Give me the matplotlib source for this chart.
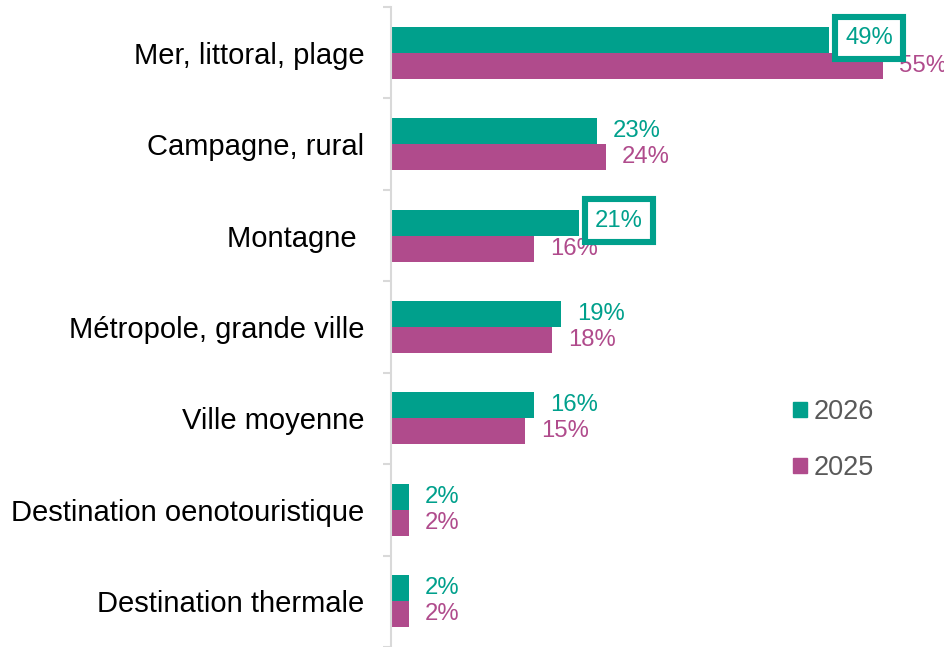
import matplotlib
matplotlib.use("Agg")
import matplotlib.pyplot as plt
import numpy as np
from matplotlib.patches import Patch

categories = ["Mer, littoral, plage", "Campagne, rural", "Montagne ",
              "Métropole, grande ville", "Ville moyenne",
              "Destination oenotouristique", "Destination thermale"]
v2026 = [49, 23, 21, 19, 16, 2, 2]
v2025 = [55, 24, 16, 18, 15, 2, 2]
highlight = [0, 2]  # indices of 2026 labels framed

teal = "#00A08C"
magenta = "#B04B8C"
axis_gray = "#D9D9D9"

plt.rcParams['font.family'] = ['Liberation Sans', 'DejaVu Sans']

fig = plt.figure(figsize=(9.44, 6.47), dpi=100)
ax = fig.add_axes([391/944, 0, (944-391)/944, 1-7/647])

y = np.arange(len(categories))
h = 0.284
ax.barh(y - h/2, v2026, height=h, color=teal, label="2026")
ax.barh(y + h/2, v2025, height=h, color=magenta, label="2025")

ax.set_xlim(0, (944-391)/8.945)
ax.set_ylim(len(categories)-0.5, -0.5)

lab_fs = 17.2
for i, v in enumerate(v2026):
    kw = {}
    dy = 0
    if i in highlight:
        kw['bbox'] = dict(boxstyle='square,pad=0.42', fc='white', ec=teal, lw=4.4)
        dy = 1.5
    ax.annotate(f"{v}%", (v, y[i]-h/2), xytext=(11.5, dy), textcoords='offset points',
                va='center', ha='left', color=teal, fontsize=lab_fs, zorder=4, **kw)
for i, v in enumerate(v2025):
    ax.annotate(f"{v}%", (v, y[i]+h/2), xytext=(11.5, 0), textcoords='offset points',
                va='center', ha='left', color=magenta, fontsize=lab_fs, zorder=3)

ax.set_yticks(y)
ax.set_yticklabels(categories, fontsize=21, color='black')
ax.tick_params(axis='y', which='major', length=0, pad=19)
ax.set_yticks(np.arange(len(categories)+1) - 0.5, minor=True)
ax.tick_params(axis='y', which='minor', length=6, width=1.5, color=axis_gray)
ax.set_xticks([])

for s in ['top', 'right', 'bottom']:
    ax.spines[s].set_visible(False)
ax.spines['left'].set_color(axis_gray)
ax.spines['left'].set_linewidth(1.5)

handles = [Patch(color=teal, label="2026"), Patch(color=magenta, label="2025")]
fig.legend(handles=handles, loc='center left', bbox_to_anchor=(793/944, 1-440/647),
           frameon=False, fontsize=19.5, labelcolor='#595959', handlelength=0.5,
           handleheight=0.5, handletextpad=0.25, labelspacing=1.1, borderpad=0,
           borderaxespad=0)

fig.savefig("out.png", dpi=100)
